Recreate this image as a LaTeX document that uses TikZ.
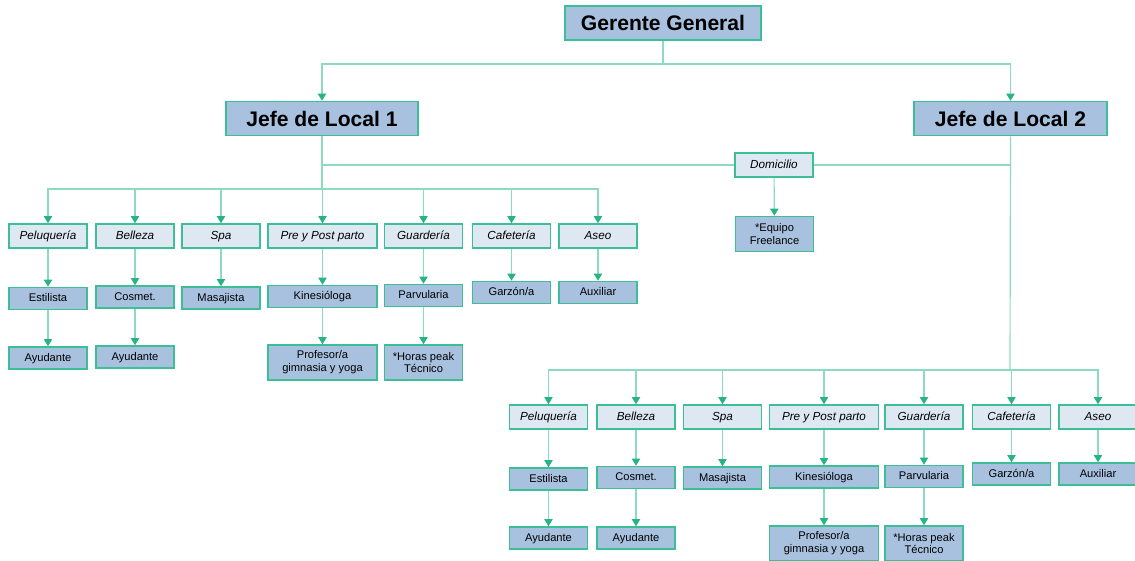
\documentclass[tikz,border=0pt]{standalone}
\usepackage{fontspec}
\setmainfont{Liberation Sans}
\usetikzlibrary{arrows.meta}
\usetikzlibrary{positioning}

\definecolor{boxfill}{RGB}{168,193,223}
\definecolor{unitfill}{RGB}{222,232,243}
\definecolor{boxline}{RGB}{60,190,150}
\definecolor{linkline}{RGB}{140,218,192}
\definecolor{tipgreen}{RGB}{40,180,130}

\begin{document}
\begin{tikzpicture}[x=0.03cm,y=-0.03cm,
  link/.style={draw=linkline,line width=1pt},
  arr/.style={link,-{Triangle[width=7pt,length=6pt,color=tipgreen]}},
  boss/.style={draw=boxline,fill=boxfill,line width=1.3pt,minimum height=1.02cm,font=\fontsize{18}{20}\selectfont\bfseries},
  unit/.style={draw=boxline,fill=unitfill,line width=1.3pt,minimum width=2.34cm,minimum height=0.72cm,text height=1.5ex,text depth=.4ex,font=\fontsize{10}{12}\selectfont\itshape},
  role/.style={draw=boxline,fill=boxfill,line width=1.3pt,minimum width=2.34cm,minimum height=0.66cm,text height=1.5ex,text depth=.4ex,font=\fontsize{9.5}{11}\selectfont,align=center},
  tall/.style={role,minimum height=1.05cm,text height=,text depth=},
  wide/.style={minimum width=3.27cm}]
      \useasboundingbox (0,0) rectangle (1135,561);

      \node [boss,minimum width=5.88cm] (gg) at (663,23) {Gerente General};
      \node [boss,minimum width=5.76cm] (j1) at (322,118.5) {Jefe de Local 1};
      \node [boss,minimum width=5.79cm] (j2) at (1010.5,118.5) {Jefe de Local 2};

      \node [unit] (dom) at (774,165) {Domicilio};
      \node [tall] (equ) at (774.5,234) {*Equipo\\Freelance};

      \node [unit] (pel1) at (48,236) {Peluquería};
      \node [unit] (bel1) at (135,236) {Belleza};
      \node [unit] (spa1) at (221,236) {Spa};
      \node [unit,wide] (pre1) at (322.5,236) {Pre y Post parto};
      \node [unit] (gua1) at (423.5,236) {Guardería};
      \node [unit] (caf1) at (511.5,236) {Cafetería};
      \node [unit] (ase1) at (598,236) {Aseo};

      \node [role] (est1) at (48,298.5) {Estilista};
      \node [role] (cos1) at (135,297) {Cosmet.};
      \node [role] (mas1) at (221,298) {Masajista};
      \node [role,wide] (kin1) at (322.5,296.5) {Kinesióloga};
      \node [role] (par1) at (423.5,295.5) {Parvularia};
      \node [role] (gar1) at (511.5,292.5) {Garzón/a};
      \node [role] (aux1) at (598,292.5) {Auxiliar};

      \node [role] (ayu1) at (48,358) {Ayudante};
      \node [role] (ayb1) at (135,357) {Ayudante};
      \node [tall,wide] (pro1) at (322.5,362.5) {Profesor/a\\gimnasia y yoga};
      \node [tall] (hor1) at (423.5,362.5) {*Horas peak\\Técnico};

      \node [unit] (pel2) at (548.5,417) {Peluquería};
      \node [unit] (bel2) at (636,417) {Belleza};
      \node [unit] (spa2) at (722.5,417) {Spa};
      \node [unit,wide] (pre2) at (824,417) {Pre y Post parto};
      \node [unit] (gua2) at (924,417) {Guardería};
      \node [unit] (caf2) at (1011.5,417) {Cafetería};
      \node [unit] (ase2) at (1098,417) {Aseo};

      \node [role] (est2) at (548.5,479) {Estilista};
      \node [role] (cos2) at (636,477.5) {Cosmet.};
      \node [role] (mas2) at (722.5,478) {Masajista};
      \node [role,wide] (kin2) at (824,477) {Kinesióloga};
      \node [role] (par2) at (924,476.5) {Parvularia};
      \node [role] (gar2) at (1011.5,474) {Garzón/a};
      \node [role] (aux2) at (1098,474) {Auxiliar};

      \node [role] (ayu2) at (548.5,538) {Ayudante};
      \node [role] (ayb2) at (636,538) {Ayudante};
      \node [tall,wide] (pro2) at (824,543.5) {Profesor/a\\gimnasia y yoga};
      \node [tall] (hor2) at (924,543.5) {*Horas peak\\Técnico};

      \coordinate (bus0) at (663,64);
      \coordinate (bus1) at (322,189);
      \coordinate (bus2) at (1010,370);

      \draw [link] (gg.south) -- (bus0);
      \draw [arr] (bus0) -| (j1.north);
      \draw [arr] (bus0) -| (j2.north);

      \draw [link] (j1.south) -- (bus1);
      \draw [link] (j1.south |- dom.west) -- (dom.west);
      \draw [link] (dom.east) -- (j2.south |- dom.east);
      \draw [arr] (dom) -- (equ);

      \draw [arr] (bus1) -| (pel1.north);
      \draw [arr] (bus1) -| (bel1.north);
      \draw [arr] (bus1) -| (spa1.north);
      \draw [arr] (bus1) -| (pre1.north);
      \draw [arr] (bus1) -| (gua1.north);
      \draw [arr] (bus1) -| (caf1.north);
      \draw [arr] (bus1) -| (ase1.north);

      \draw [arr] (pel1) -- (est1);
      \draw [arr] (bel1) -- (cos1);
      \draw [arr] (spa1) -- (mas1);
      \draw [arr] (pre1) -- (kin1);
      \draw [arr] (gua1) -- (par1);
      \draw [arr] (caf1) -- (gar1);
      \draw [arr] (ase1) -- (aux1);
      \draw [arr] (est1) -- (ayu1);
      \draw [arr] (cos1) -- (ayb1);
      \draw [arr] (kin1) -- (pro1);
      \draw [arr] (par1) -- (hor1);

      \draw [link] (j2.south) -- (bus2);
      \draw [arr] (bus2) -| (pel2.north);
      \draw [arr] (bus2) -| (bel2.north);
      \draw [arr] (bus2) -| (spa2.north);
      \draw [arr] (bus2) -| (pre2.north);
      \draw [arr] (bus2) -| (gua2.north);
      \draw [arr] (bus2) -| (caf2.north);
      \draw [arr] (bus2) -| (ase2.north);

      \draw [arr] (pel2) -- (est2);
      \draw [arr] (bel2) -- (cos2);
      \draw [arr] (spa2) -- (mas2);
      \draw [arr] (pre2) -- (kin2);
      \draw [arr] (gua2) -- (par2);
      \draw [arr] (caf2) -- (gar2);
      \draw [arr] (ase2) -- (aux2);
      \draw [arr] (est2) -- (ayu2);
      \draw [arr] (cos2) -- (ayb2);
      \draw [arr] (kin2) -- (pro2);
      \draw [arr] (par2) -- (hor2);

\end{tikzpicture}
\end{document}
